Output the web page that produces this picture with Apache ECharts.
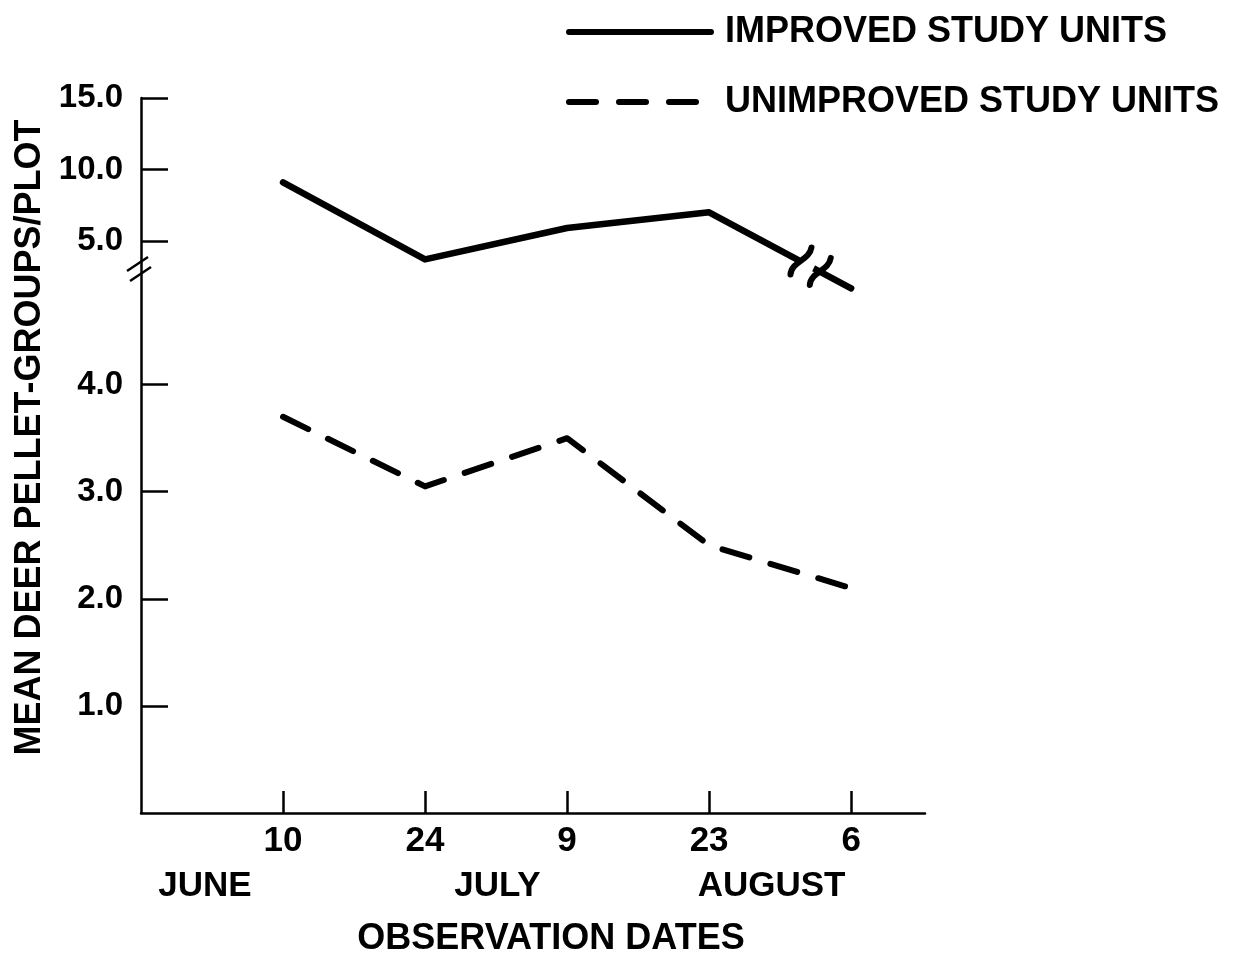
<!DOCTYPE html>
<html>
<head>
<meta charset="utf-8">
<script src="https://cdn.jsdelivr.net/npm/echarts@6/dist/echarts.min.js"></script>
<style>
  html, body { margin: 0; padding: 0; background: #fff; }
  #chart { width: 1233px; height: 955px; }
</style>
</head>
<body>
<div id="chart"></div>
<script>
// observation dates
const dayLabels = ['10', '24', '9', '23', '6'];
const monthLabels = ['JUNE', 'JULY', 'AUGUST'];
const monthPos = [-0.55, 1.51, 3.44];

// mean deer pellet-groups per plot
const improved = [9.1, 3.7, 5.9, 7.0, 4.9];
// which part of the broken axis each improved point is drawn against
const improvedScale = ['upper', 'upper', 'upper', 'upper', 'lower'];
const unimproved = [3.7, 3.05, 3.5, 2.5, 2.1];

const lowerTicks = [1, 2, 3, 4];
const upperTicks = [5, 10, 15];

// broken axis: lower part 0-5 at full scale, upper part 5-15 compressed
const upperStart = 5.343;
const upperRatio = 0.1334;
function toAxis(v, part) {
    return part === 'lower' ? v : upperStart + (v - 5) * upperRatio;
}
const tickPos = lowerTicks.map(v => toAxis(v, 'lower'))
    .concat(upperTicks.map(v => toAxis(v, 'upper')));
const tickText = lowerTicks.concat(upperTicks).map(v => v.toFixed(1));

const font = "'Liberation Sans', Arial, sans-serif";

const chart = echarts.init(document.getElementById('chart'));

const option = {
    backgroundColor: '#fff',
    animation: false,
    textStyle: { fontFamily: font, fontWeight: 'bold', color: '#000' },
    legend: {
        orient: 'vertical',
        left: 561,
        top: 7,
        itemWidth: 142,
        itemHeight: 14,
        itemGap: 30,
        itemStyle: { opacity: 0 },
        textStyle: {
            fontFamily: font, fontWeight: 'bold', fontSize: 36,
            lineHeight: 40, color: '#000', padding: [0, 0, 0, 9]
        },
        data: [
            { name: 'IMPROVED STUDY UNITS', lineStyle: { width: 6, type: 'solid', cap: 'round' } },
            { name: 'UNIMPROVED STUDY UNITS', lineStyle: { width: 6, type: [27, 23], cap: 'round' } }
        ]
    },
    grid: { left: 141, right: 308, top: 98, bottom: 142, outerBoundsMode: 'none' },
    xAxis: [
        {
            type: 'value',
            min: -1,
            max: 4.52,
            splitLine: { show: false },
            axisLine: { onZero: false, lineStyle: { color: '#000', width: 2.5 } },
            axisTick: { inside: true, length: 22, customValues: [0, 1, 2, 3, 4], lineStyle: { color: '#000', width: 2.5 } },
            axisLabel: {
                customValues: [0, 1, 2, 3, 4],
                margin: 11,
                fontSize: 35, fontWeight: 'bold', fontFamily: font, color: '#000',
                formatter: v => dayLabels[Math.round(v)]
            },
            name: 'OBSERVATION DATES',
            nameLocation: 'middle',
            nameGap: 108,
            nameTextStyle: { fontSize: 36, fontWeight: 'bold', fontFamily: font, color: '#000', padding: [0, 0, 0, 36] }
        },
        {
            type: 'value',
            position: 'bottom',
            min: -1,
            max: 4.52,
            splitLine: { show: false },
            axisLine: { show: false, onZero: false },
            axisTick: { show: false },
            axisLabel: {
                customValues: monthPos,
                margin: 56,
                fontSize: 35, fontWeight: 'bold', fontFamily: font, color: '#000',
                formatter: v => monthLabels[monthPos.indexOf(v)]
            }
        }
    ],
    yAxis: {
        type: 'value',
        min: 0,
        max: toAxis(15, 'upper'),
        splitLine: { show: false },
        axisLine: { show: true, onZero: false, lineStyle: { color: '#000', width: 2.5 } },
        axisTick: { inside: true, length: 27, customValues: tickPos, lineStyle: { color: '#000', width: 2.5 } },
        axisLabel: {
            customValues: tickPos,
            margin: 18,
            fontSize: 33, fontWeight: 'bold', fontFamily: font, color: '#000',
            formatter: v => {
                let best = 0;
                tickPos.forEach((p, i) => { if (Math.abs(p - v) < Math.abs(tickPos[best] - v)) best = i; });
                return tickText[best];
            }
        },
        name: 'MEAN DEER PELLET-GROUPS/PLOT',
        nameLocation: 'middle',
        nameRotate: 90,
        nameGap: 92,
        nameTextStyle: { fontSize: 36, fontWeight: 'bold', fontFamily: font, color: '#000', padding: [0, 0, 0, 36] }
    },
    series: [
        {
            name: 'IMPROVED STUDY UNITS',
            type: 'line',
            symbol: 'none',
            lineStyle: { color: '#000', width: 6.5, type: 'solid', cap: 'round', join: 'round' },
            itemStyle: { color: '#000' },
            data: improved.map((v, i) => [i, toAxis(v, improvedScale[i])]),
            z: 3
        },
        {
            name: 'UNIMPROVED STUDY UNITS',
            type: 'line',
            symbol: 'none',
            lineStyle: { color: '#000', width: 6, type: [28, 22], cap: 'round', join: 'round' },
            itemStyle: { color: '#000' },
            data: unimproved.map((v, i) => [i, v]),
            z: 3
        }
    ]
};

chart.setOption(option);

// break marks on the y axis and on the improved line
function breakMarks() {
    const g = [];
    const a = chart.convertToPixel({ gridIndex: 0 }, [-1, 5.08]);
    [[-3, -5], [0, 5]].forEach(o => {
        g.push({
            type: 'line', z: 10,
            shape: { x1: a[0] + o[0] - 11, y1: a[1] + o[1] + 7, x2: a[0] + o[0] + 10, y2: a[1] + o[1] - 7 },
            style: { stroke: '#000', lineWidth: 2.5 }
        });
    });

    const p3 = chart.convertToPixel({ gridIndex: 0 }, [3, toAxis(improved[3], improvedScale[3])]);
    const p4 = chart.convertToPixel({ gridIndex: 0 }, [4, toAxis(improved[4], improvedScale[4])]);
    const at = t => [p3[0] + (p4[0] - p3[0]) * t, p3[1] + (p4[1] - p3[1]) * t];
    const c1 = at(0.622), c2 = at(0.758);
    g.push({
        type: 'line', z: 10,
        shape: { x1: c1[0] + 3, y1: c1[1] + 2, x2: c2[0] - 3, y2: c2[1] - 2 },
        style: { stroke: '#fff', lineWidth: 11 }
    });
    [c1, c2].forEach(c => {
        g.push({
            type: 'bezierCurve', z: 11,
            shape: {
                x1: c[0] - 7, y1: c[1] + 15,
                cpx1: c[0] - 6, cpy1: c[1] + 2,
                cpx2: c[0] + 12, cpy2: c[1] + 1,
                x2: c[0] + 14, y2: c[1] - 12
            },
            style: { stroke: '#000', lineWidth: 6, fill: null, lineCap: 'round' }
        });
    });
    chart.setOption({ graphic: g });
}
breakMarks();
window.addEventListener('resize', chart.resize);
</script>
</body>
</html>
